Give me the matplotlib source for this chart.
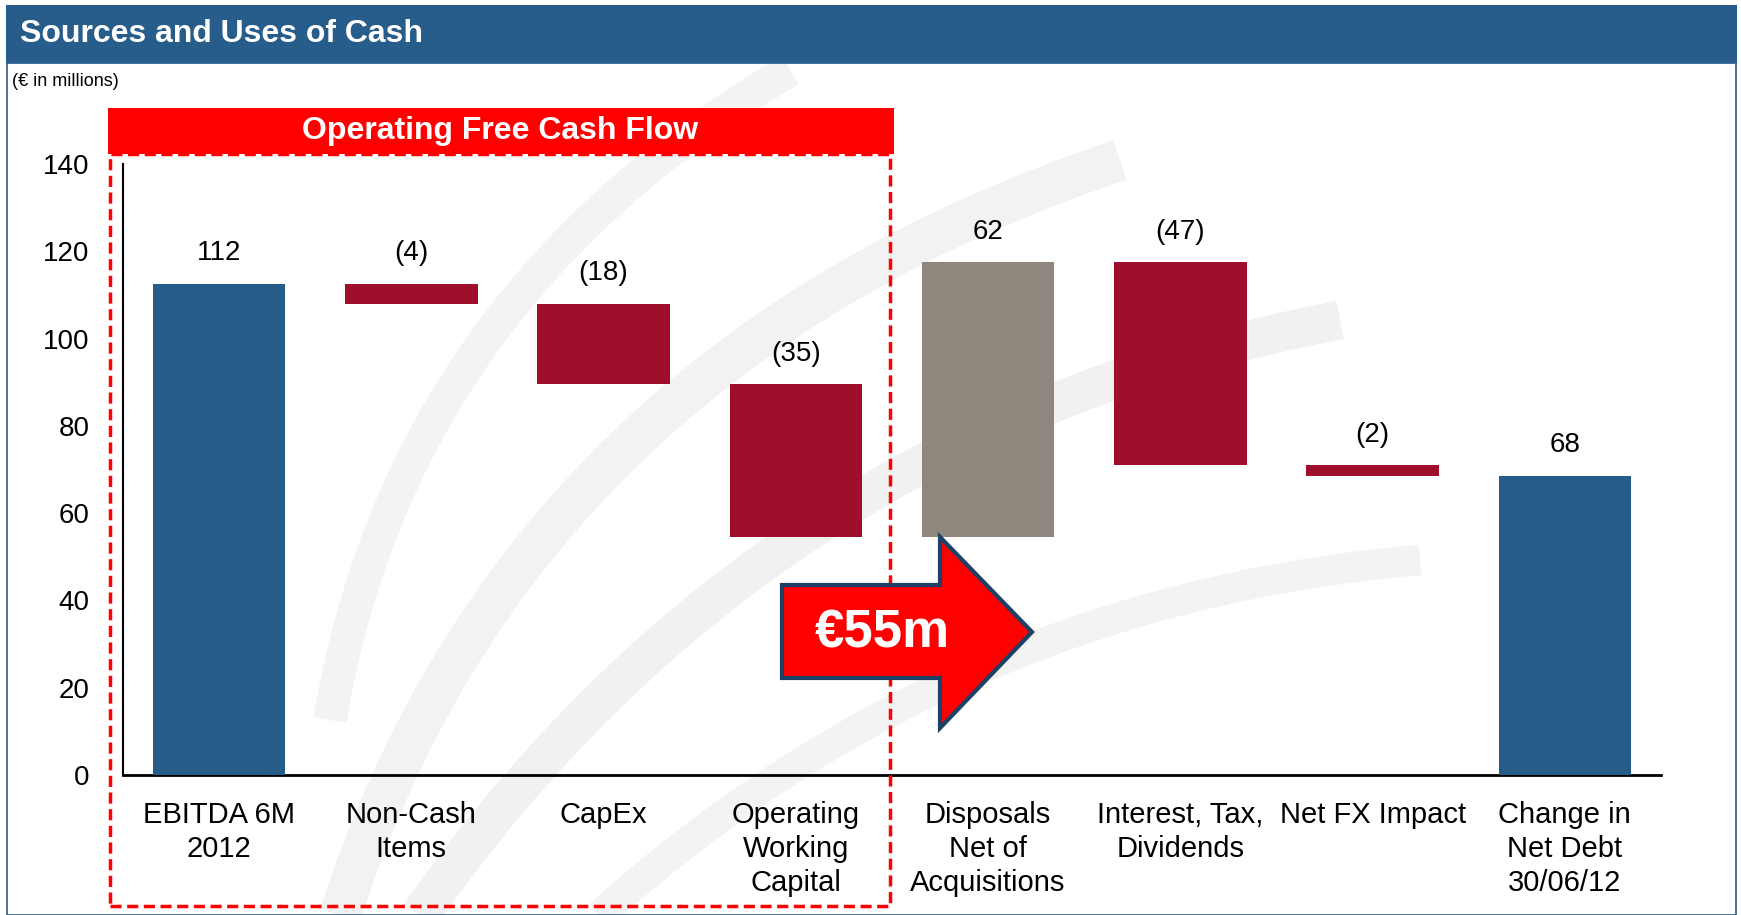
import matplotlib
matplotlib.use('Agg')
import matplotlib.pyplot as plt
from matplotlib.patches import Rectangle, Polygon
from matplotlib.path import Path
from matplotlib.patches import PathPatch

# data
categories = ['EBITDA 6M\n2012', 'Non-Cash\nItems', 'CapEx', 'Operating\nWorking\nCapital',
              'Disposals\nNet of\nAcquisitions', 'Interest, Tax,\nDividends', 'Net FX Impact',
              'Change in\nNet Debt\n30/06/12']
steps = [112.5, -4.5, -18.5, -35.0, 63.0, -46.5, -2.5]
value_labels = ['112', '(4)', '(18)', '(35)', '62', '(47)', '(2)', '68']
yticks = [0, 20, 40, 60, 80, 100, 120, 140]

BLUE = '#265C8A'
RED = '#9E0F2D'
GREY = '#8F877E'
bar_colors = [BLUE, RED, RED, RED, GREY, RED, RED, BLUE]

plt.rcParams['font.family'] = ['Liberation Sans', 'DejaVu Sans']

W, H = 1741, 915
fig = plt.figure(figsize=(W / 100, H / 100), dpi=100)
fig.patch.set_facecolor('white')


def fx(x):
    return x / W


def fy(y):
    return 1 - y / H


# faint watermark swooshes in the background (decoration only)
swooshes = [
    ((330, 720), (400, 300), (790, 70), '#f3f3f3', 24),
    ((340, 915), (520, 360), (1120, 160), '#f2f2f2', 30),
    ((420, 915), (760, 430), (1340, 320), '#f1f1f1', 28),
    ((600, 915), (950, 600), (1420, 560), '#f3f3f3', 22),
]
for p0, p1, p2, col, lw in swooshes:
    path = Path([(fx(p0[0]), fy(p0[1])), (fx(p1[0]), fy(p1[1])), (fx(p2[0]), fy(p2[1]))],
                [Path.MOVETO, Path.CURVE3, Path.CURVE3])
    fig.add_artist(PathPatch(path, transform=fig.transFigure, fill=False,
                             edgecolor=col, lw=lw, capstyle='butt', zorder=0))

# header band and panel border
fig.add_artist(Rectangle((fx(7), fy(915)), fx(1729), (915 - 63) / H, transform=fig.transFigure,
                         fill=False, edgecolor=BLUE, lw=1.2, zorder=1))
fig.add_artist(Rectangle((fx(6), fy(63)), fx(1731), (63 - 5) / H, transform=fig.transFigure,
                         facecolor='#275D8B', edgecolor='none', zorder=2))
fig.text(fx(20), fy(34), 'Sources and Uses of Cash', color='white', fontsize=23,
         fontweight='bold', va='center', ha='left', zorder=3)
fig.text(fx(12), fy(81), '(€ in millions)', fontsize=13, va='center', ha='left')

# waterfall geometry
bottoms, heights = [], []
run = 0.0
for s in steps:
    start, end = run, run + s
    bottoms.append(min(start, end))
    heights.append(abs(s))
    run = end
bottoms.append(0.0)
heights.append(run)
tops = [b + h for b, h in zip(bottoms, heights)]

ax = fig.add_axes([fx(123), fy(775), fx(1661 - 123), (775 - 164) / H])
ax.patch.set_alpha(0)
x = list(range(len(categories)))
ax.bar(x, heights, bottom=bottoms, width=0.69, color=bar_colors, zorder=3)

for xi, top, lab in zip(x, tops, value_labels):
    ax.annotate(lab, (xi, top), xytext=(0, 22), textcoords='offset points',
                ha='center', va='center', fontsize=20)

ax.set_xlim(-0.5, len(categories) - 0.5)
ax.set_ylim(0, 140)
ax.set_yticks(yticks)
ax.set_xticks(x)
ax.set_xticklabels(categories, fontsize=21, linespacing=1.27)
ax.tick_params(axis='y', length=0, pad=24, labelsize=20)
ax.tick_params(axis='x', length=0, pad=19)
for side in ['top', 'right']:
    ax.spines[side].set_visible(False)
ax.spines['left'].set_linewidth(1.5)
ax.spines['bottom'].set_linewidth(2)

# Operating free cash flow box
fig.add_artist(Rectangle((fx(110), fy(906)), fx(890 - 110), (906 - 154) / H,
                         transform=fig.transFigure, fill=False, edgecolor='#FF0000',
                         lw=2.5, linestyle=(0, (3.2, 1.6)), zorder=5))
fig.add_artist(Rectangle((fx(108), fy(154)), fx(894 - 108), (154 - 108) / H,
                         transform=fig.transFigure, facecolor='#FF0000', edgecolor='none', zorder=6))
fig.text(fx(500), fy(131), 'Operating Free Cash Flow', color='white', fontsize=23,
         fontweight='bold', ha='center', va='center', zorder=7)

# arrow
arrow_pts = [(782, 585), (940, 585), (940, 537), (1032, 632), (940, 728), (940, 678), (782, 678)]
fig.add_artist(Polygon([(fx(a), fy(b)) for a, b in arrow_pts], closed=True,
                       transform=fig.transFigure, facecolor='#FF0000', edgecolor='#1B4266',
                       lw=3, joinstyle='miter', zorder=8))
fig.text(fx(882), fy(633), '€55m', color='white', fontsize=38, fontweight='bold',
         ha='center', va='center', zorder=9)

fig.savefig('out.png', dpi=100)
